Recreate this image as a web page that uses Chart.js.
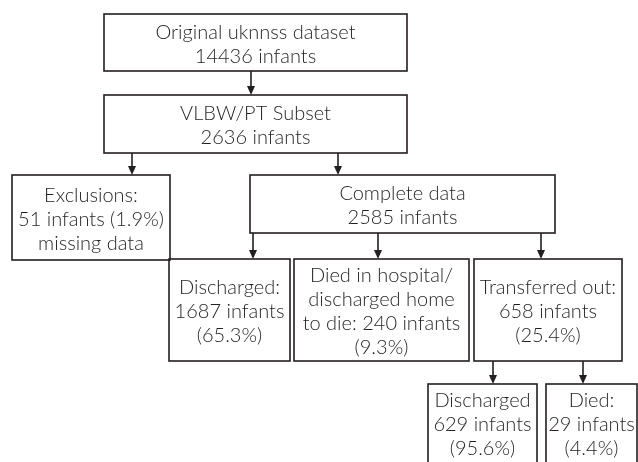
<!DOCTYPE html>
<html>
<head>
<meta charset="utf-8">
<script src="https://cdn.jsdelivr.net/npm/chart.js@4"></script>
<style>
html,body{margin:0;padding:0;background:#fff;}
#wrap{width:638px;height:462px;}
</style>
</head>
<body>
<div id="wrap"><canvas id="c" width="638" height="462"></canvas></div>
<script>
// ---- data ----
const stages = ['Original uknnss dataset', 'VLBW/PT Subset', 'Exclusions:', 'Complete data',
  'Discharged:', 'Died in hospital/', 'Transferred out:', 'Discharged', 'Died:'];
const infants = [14436, 2636, 51, 2585, 1687, 240, 658, 629, 29];
const percents = [null, null, 1.9, null, 65.3, 9.3, 25.4, 95.6, 4.4];

// text lines for each box, built from the data arrays
const boxText = [
  [stages[0], infants[0] + ' infants'],
  [stages[1], infants[1] + ' infants'],
  [stages[2], infants[2] + ' infants (' + percents[2] + '%)', 'missing data'],
  [stages[3], infants[3] + ' infants'],
  [stages[4], infants[4] + ' infants', '(' + percents[4] + '%)'],
  [stages[5], 'discharged home', 'to die: ' + infants[5] + ' infants', '(' + percents[5] + '%)'],
  [stages[6], infants[6] + ' infants', '(' + percents[6] + '%)'],
  [stages[7], infants[7] + ' infants', '(' + percents[7] + '%)'],
  [stages[8], infants[8] + ' infants', '(' + percents[8] + '%)']
];

// ---- layout (flow diagram geometry in axis units) ----
const boxGeom = [
  [104, 407, 14, 71],
  [104, 407, 95, 153],
  [12, 170, 175, 260],
  [250, 555, 175, 233],
  [169, 290, 259, 361],
  [294, 469, 259, 361],
  [474, 622, 259, 361],
  [428, 537, 384, 475],
  [546, 637, 384, 475]
];
const arrowGeom = [
  [251, 71, 95],
  [132, 153, 175],
  [338, 153, 175],
  [253, 233, 259],
  [378, 233, 259],
  [541, 233, 259],
  [493, 361, 384],
  [583, 361, 384]
];

const FONT = '300 20px "Lato", "DejaVu Sans", sans-serif';
const LINE_H = 24;
const INK = '#231f20';

const flowPlugin = {
  id: 'flow',
  afterDatasetsDraw(chart) {
    const ctx = chart.ctx;
    const xs = chart.scales.x, ys = chart.scales.y;
    const px = v => xs.getPixelForValue(v);
    const py = v => ys.getPixelForValue(v);
    ctx.save();
    ctx.strokeStyle = INK;
    ctx.fillStyle = INK;
    ctx.lineWidth = 1.6;
    // boxes
    boxGeom.forEach((b, i) => {
      const x0 = px(b[0]), x1 = px(b[1]), y0 = py(b[2]), y1 = py(b[3]);
      ctx.strokeRect(x0, y0, x1 - x0, y1 - y0);
      const lines = boxText[i];
      const cx = (x0 + x1) / 2, cy = (y0 + y1) / 2;
      ctx.font = FONT;
      ctx.textAlign = 'center';
      ctx.textBaseline = 'middle';
      const mid = i >= 7 ? py(425) : cy + 2;
      const top = mid - (lines.length - 1) * LINE_H / 2;
      lines.forEach((t, k) => ctx.fillText(t, cx, top + k * LINE_H));
    });
    // arrows
    arrowGeom.forEach(a => {
      const x = px(a[0]), y0 = py(a[1]), y1 = py(a[2]);
      ctx.beginPath();
      ctx.moveTo(x, y0);
      ctx.lineTo(x, y1 - 8);
      ctx.stroke();
      ctx.beginPath();
      ctx.moveTo(x - 4, y1 - 9);
      ctx.lineTo(x + 4, y1 - 9);
      ctx.lineTo(x, y1);
      ctx.closePath();
      ctx.fill();
    });
    ctx.restore();
  }
};

new Chart(document.getElementById('c'), {
  type: 'scatter',
  data: { datasets: [{ data: [], pointRadius: 0 }] },
  options: {
    responsive: false,
    animation: false,
    layout: { padding: 0 },
    plugins: { legend: { display: false }, tooltip: { enabled: false } },
    scales: {
      x: { type: 'linear', min: 0, max: 638, display: false },
      y: { type: 'linear', min: 0, max: 462, reverse: true, display: false }
    }
  },
  plugins: [flowPlugin]
});
</script>
</body>
</html>
